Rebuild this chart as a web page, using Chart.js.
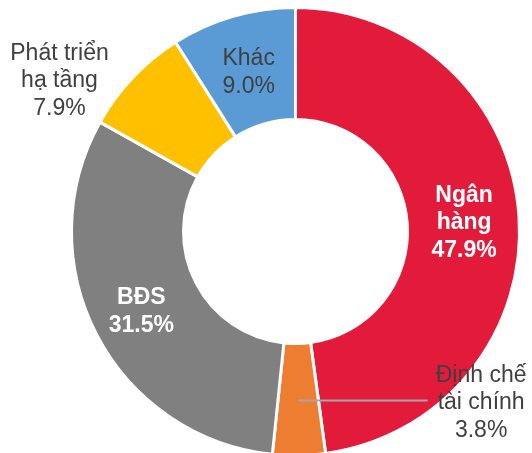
<!DOCTYPE html>
<html>
<head>
<meta charset="utf-8">
<script src="https://cdn.jsdelivr.net/npm/chart.js@4"></script>
<style>
  html, body { margin: 0; padding: 0; background: #ffffff; overflow: hidden; }
  #wrap { position: absolute; left: 0; top: 0; width: 532px; height: 470px; }
</style>
</head>
<body>
<div id="wrap"><canvas id="c"></canvas></div>
<script>
// ---- data ----
const categories = ["Ngân hàng", "Định chế tài chính", "BĐS", "Phát triển hạ tầng", "Khác"];
const labelLines = [["Ngân", "hàng"], ["Định chế", "tài chính"], ["BĐS"], ["Phát triển", "hạ tầng"], ["Khác"]];
const shares = [47.9, 3.8, 31.5, 7.9, 9.0];
const sliceColors = ["#E31B3B", "#ED7D31", "#808080", "#FFC000", "#5B9BD5"];

// ---- label styling / placement (not data) ----
const labelStyle = [
  { color: "#FFFFFF", bold: true,  dx: 1,    dy: 1,  leader: false },
  { color: "#404040", bold: false, dx: 183,  dy: 2,  leader: true  },
  { color: "#FFFFFF", bold: true,  dx: -5,   dy: 1,  leader: false },
  { color: "#404040", bold: false, dx: -114, dy: -37, leader: false },
  { color: "#404040", bold: false, dx: 0,    dy: 1,  leader: false }
];

const labelPlugin = {
  id: "sliceLabels",
  afterDatasetsDraw(chart) {
    const ctx = chart.ctx;
    const meta = chart.getDatasetMeta(0);
    const fontSize = 23, lh = 27.5;
    meta.data.forEach((arc, i) => {
      const st = labelStyle[i];
      const p = arc.tooltipPosition();
      const cx = p.x + st.dx, cy = p.y + st.dy;
      const lines = labelLines[i].concat([shares[i].toFixed(1) + "%"]);
      ctx.save();
      ctx.font = (st.bold ? "bold " : "") + fontSize + "px 'Liberation Sans', Arial, sans-serif";
      if (st.leader) {
        let maxW = 0;
        lines.forEach(t => { maxW = Math.max(maxW, ctx.measureText(t).width); });
        ctx.strokeStyle = "#A6A6A6";
        ctx.lineWidth = 2;
        ctx.beginPath();
        ctx.moveTo(p.x, p.y + 1);
        ctx.lineTo(cx - maxW / 2 - 8, p.y + 1);
        ctx.stroke();
      }
      ctx.fillStyle = st.color;
      ctx.textAlign = "center";
      ctx.textBaseline = "alphabetic";
      const n = lines.length;
      lines.forEach((t, k) => {
        const y = cy + (k - (n - 1) / 2) * lh + 8;
        ctx.fillText(t, cx, y);
      });
      ctx.restore();
    });
  }
};

new Chart(document.getElementById("c"), {
  type: "doughnut",
  data: {
    labels: categories,
    datasets: [{
      data: shares,
      backgroundColor: sliceColors,
      borderColor: "#FFFFFF",
      borderWidth: 3,
      hoverOffset: 0
    }]
  },
  options: {
    responsive: true,
    maintainAspectRatio: false,
    animation: false,
    cutout: "50%",
    layout: { padding: { left: 70, right: 11, top: 6, bottom: 13 } },
    plugins: {
      legend: { display: false },
      tooltip: { enabled: false }
    },
    events: []
  },
  plugins: [labelPlugin]
});
</script>
</body>
</html>
